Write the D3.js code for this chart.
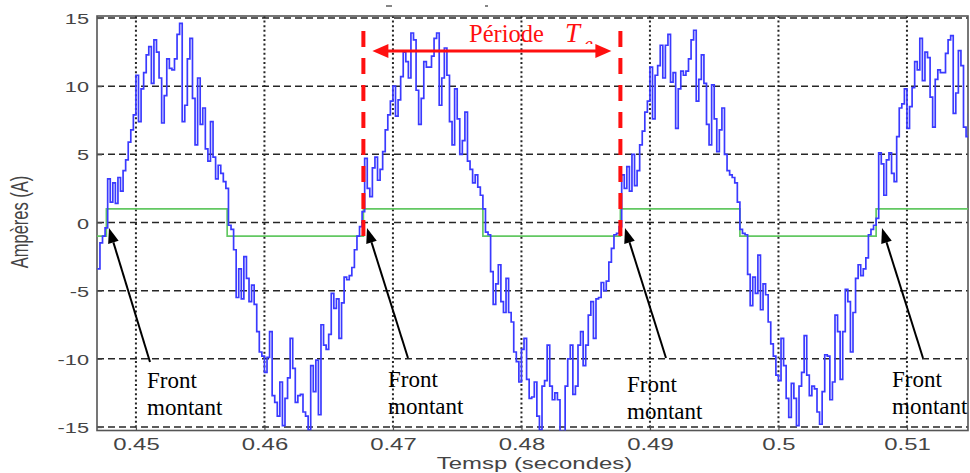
<!DOCTYPE html>
<html>
<head>
<meta charset="utf-8">
<script src="https://cdn.jsdelivr.net/npm/d3@7"></script>
<style>
  html, body { margin: 0; padding: 0; background: #fff; }
  svg { display: block; }
</style>
</head>
<body>
<script>
// ---------- DATA ----------
// Sampled (zero-order hold) phase current, Amperes, starting at t0 with step dt
const t0 = 0.4470;
const dt = 0.0002;
const current = [
  -3.4, -1.5, -1.0, -0.4,
  3.2, 1.5, 2.9, 1.4, 3.3, 2.3, 3.8, 4.6, 5.9, 6.8, 7.9, 10.8, 7.4, 9.8, 11.0, 12.3,
  12.9, 10.2, 13.4, 12.5, 10.6, 7.3, 9.3, 12.0, 11.3, 11.2, 12.0, 13.8, 14.6, 7.4, 8.6, 12.0,
  13.5, 9.1, 5.7, 10.6, 7.2, 8.4, 5.4, 4.5, 7.4, 4.8, 3.2, 4.2, 3.6, 3.0, 2.5,
  -0.2, -0.5, -2.0, -5.5, -3.4, -5.6, -2.5, -4.1, -5.8, -4.6, -6.0, -8.0, -9.5, -9.8, -11.0,
  -9.9, -8.0, -12.7, -13.2, -14.2, -11.7, -14.9, -12.9, -11.4, -8.5, -10.7, -13.2, -12.7, -12.6,
  -13.9, -14.2, -15.2, -10.5, -12.4, -10.1, -14.1, -7.5, -9.0, -9.3, -8.2, -5.2, -6.3, -5.6,
  -8.5, -5.9, -4.0, -4.2, -3.9, -3.3, -2.0, -1.0, -0.3, 0.8,
  4.7, 2.5, 1.9, 4.0, 4.8, 3.1, 3.9, 5.2, 6.8, 7.9, 8.9, 10.0, 7.8, 9.0, 10.7, 12.5, 11.8,
  10.6, 13.9, 13.4, 9.7, 7.2, 9.1, 11.8, 11.4, 11.4, 12.2, 13.5, 13.9, 8.6, 10.6, 12.8, 10.8,
  7.4, 5.7, 9.8, 7.6, 5.0, 6.0, 8.1, 4.5, 3.9, 2.9, 3.5, 2.6, 2.0, 1.0,
  -0.7, -0.9, -3.6, -6.0, -4.5, -3.1, -5.8, -6.6, -4.1, -6.6, -7.3, -9.5, -10.2, -11.7, -9.3,
  -8.5, -11.5, -12.9, -12.8, -11.7, -14.2, -15.2, -12.0, -11.6, -9.0, -12.0, -13.0, -12.5,
  -13.0, -15.3, -15.4, -12.0, -10.0, -9.0, -12.6, -12.0, -9.0, -8.0, -10.5, -9.0, -6.8, -5.8,
  -8.5, -5.6, -5.5, -4.4, -5.0, -4.3, -2.9, -1.9, -0.9, -0.8, -0.3,
  3.5, 2.5, 4.1, 2.3, 5.0, 2.7, 3.8, 5.7, 6.7, 8.1, 8.9, 11.4, 7.6, 10.8, 11.5, 13.0, 10.6,
  13.0, 13.8, 10.3, 11.0, 6.9, 9.8, 11.1, 10.8, 11.1, 12.0, 13.4, 14.1, 8.9, 10.5, 12.3, 10.2,
  7.2, 5.7, 10.1, 7.6, 5.2, 6.8, 8.4, 5.0, 3.8, 3.5, 3.3, 2.9, 1.5,
  -0.5, -0.8, -0.9, -3.8, -6.1, -4.0, -5.2, -2.4, -6.4, -4.5, -5.3, -7.3, -8.9, -9.8, -11.2,
  -11.6, -8.5, -10.5, -12.9, -14.3, -11.8, -12.9, -14.9, -12.0, -11.0, -8.3, -11.2, -12.7,
  -12.0, -12.2, -13.9, -14.8, -12.4, -9.7, -9.8, -13.0, -11.7, -6.8, -8.0, -11.5, -8.0, -4.9,
  -5.8, -9.5, -6.6, -4.1, -3.1, -3.9, -3.4, -2.6, -0.9, -0.5, -0.2, 0.3,
  5.1, 4.3, 2.0, 4.6, 5.1, 3.6, 3.0, 6.3, 8.4, 8.7, 9.8, 6.9, 8.5, 9.9, 11.8, 11.2, 13.5,
  10.4, 12.5, 12.1, 9.2, 7.0, 10.5, 11.2, 11.0, 11.0, 12.4, 13.4, 13.7, 8.0, 9.5, 12.6, 11.5,
  7.0, 6.3, 8.0
];
// Square-wave (sign) signal: edge times and levels
const squareTimes  = [0.44697, 0.4477, 0.4571, 0.4677, 0.4770, 0.4877, 0.4970, 0.5076, 0.51475];
const squareLevels = [-1, 1, -1, 1, -1, 1, -1, 1, 1];
// Period markers (rising edges) for the red dashed lines
const periodMarks = [0.4677, 0.4877];
// Axes
const xDomain = [0.44697, 0.51475];
const yDomain = [-15, 15];
const xTicks = [0.45, 0.46, 0.47, 0.48, 0.49, 0.50, 0.51];
const xTickLabels = ["0.45", "0.46", "0.47", "0.48", "0.49", "0.5", "0.51"];
const yTicks = [-15, -10, -5, 0, 5, 10, 15];
const yTickLabels = ["-15", "-10", "-5", "0", "5", "10", "15"];
const xTitle = "Temsp (secondes)";
const yTitle = "Ampères (A)";
const annLabel = ["Front", "montant"];

// ---------- LAYOUT ----------
const W = 970, H = 473;
const L = 97, R = 968, T = 16, B = 430.5;

const svg = d3.select("body").append("svg").attr("width", W).attr("height", H);
svg.append("rect").attr("width", W).attr("height", H).attr("fill", "#fff");

const x = d3.scaleLinear().domain(xDomain).range([L, R]);
const y = d3.scaleLinear().domain(yDomain).range([427, 18]);

const defs = svg.append("defs");
defs.append("clipPath").attr("id", "plotClip")
  .append("rect").attr("x", L).attr("y", T).attr("width", R - L).attr("height", B - T);
defs.append("clipPath").attr("id", "subClip")
  .append("rect").attr("x", 560).attr("y", 0).attr("width", 60).attr("height", 44);

// grid
const grid = svg.append("g");
grid.selectAll(".hg").data(yTicks).join("line")
  .attr("x1", L).attr("x2", R).attr("y1", d => y(d)).attr("y2", d => y(d))
  .attr("stroke", "#262626").attr("stroke-width", 1.5).attr("stroke-dasharray", "7,4");
grid.selectAll(".vg").data(xTicks).join("line")
  .attr("x1", d => x(d)).attr("x2", d => x(d)).attr("y1", T).attr("y2", B)
  .attr("stroke", "#262626").attr("stroke-width", 2).attr("stroke-dasharray", "2,2.6");

// box
svg.append("rect").attr("x", L).attr("y", T).attr("width", R - L).attr("height", B - T)
  .attr("fill", "none").attr("stroke", "#555").attr("stroke-width", 1.6);

// axes
const fontSans = "'Liberation Sans', Arial, sans-serif";
const gx = svg.append("g").attr("transform", `translate(0,${B})`)
  .call(d3.axisBottom(x).tickValues(xTicks).tickFormat((d, i) => xTickLabels[i])
    .tickSizeInner(-5).tickSizeOuter(0));
gx.select(".domain").remove();
gx.selectAll("line").attr("stroke", "#555").attr("stroke-width", 1.2);
gx.selectAll("text").attr("y", 0).attr("dy", 0)
  .attr("transform", "translate(0,19.5) scale(1.45,1)")
  .attr("font-family", fontSans).attr("font-size", 16.5).attr("fill", "#444");

const gy = svg.append("g").attr("transform", `translate(${L},0)`)
  .call(d3.axisLeft(y).tickValues(yTicks).tickFormat((d, i) => yTickLabels[i])
    .tickSizeInner(-5).tickSizeOuter(0));
gy.select(".domain").remove();
gy.selectAll("line").attr("stroke", "#555").attr("stroke-width", 1.2);
gy.selectAll("text").attr("x", 0).attr("dy", 0)
  .attr("transform", "translate(-8,5.5) scale(1.45,1)")
  .attr("font-family", fontSans).attr("font-size", 15).attr("fill", "#444");

// axis titles
svg.append("text").text(xTitle)
  .attr("transform", `translate(${(L + R) / 2 + 2},469) scale(1.45,1)`)
  .attr("text-anchor", "middle").attr("font-family", fontSans).attr("font-size", 16.5)
  .attr("fill", "#444");
svg.append("text").text(yTitle)
  .attr("transform", "translate(27.5,222) scale(1.45,1) rotate(-90)")
  .attr("text-anchor", "middle").attr("font-family", fontSans).attr("font-size", 16.5)
  .attr("fill", "#444");

// tiny remnants at top
svg.append("line").attr("x1", 386).attr("x2", 392).attr("y1", 6).attr("y2", 6)
  .attr("stroke", "#444").attr("stroke-width", 1.3);
svg.append("line").attr("x1", 485).attr("x2", 488).attr("y1", 6).attr("y2", 6)
  .attr("stroke", "#444").attr("stroke-width", 1.3);

// data series
const plot = svg.append("g").attr("clip-path", "url(#plotClip)");
const sqData = squareTimes.map((t, i) => [t, squareLevels[i]]);
plot.append("path").datum(sqData)
  .attr("d", d3.line().x(d => x(d[0])).y(d => y(d[1])).curve(d3.curveStepAfter))
  .attr("fill", "none").attr("stroke", "#62c862").attr("stroke-width", 1.7);

plot.append("path").datum(current)
  .attr("d", d3.line().x((d, i) => x(t0 + i * dt)).y(d => y(d)).curve(d3.curveStepAfter))
  .attr("fill", "none").attr("stroke", "#3a3aff").attr("stroke-width", 1.7)
  .attr("stroke-linejoin", "miter");

// red period markers
svg.selectAll(".pm").data(periodMarks).join("line")
  .attr("x1", d => x(d)).attr("x2", d => x(d)).attr("y1", 31).attr("y2", 243)
  .attr("stroke", "#ff1010").attr("stroke-width", 4).attr("stroke-dasharray", "16,11");

// red double arrow
const ax1 = x(periodMarks[0]) + 9, ax2 = x(periodMarks[1]) - 9, ay = 51;
svg.append("line").attr("x1", ax1 + 12).attr("x2", ax2 - 12).attr("y1", ay).attr("y2", ay)
  .attr("stroke", "#ff1010").attr("stroke-width", 3);
svg.append("path").attr("d", `M${ax1},${ay} L${ax1 + 16},${ay - 7} L${ax1 + 16},${ay + 7} Z`).attr("fill", "#ff1010");
svg.append("path").attr("d", `M${ax2},${ay} L${ax2 - 16},${ay - 7} L${ax2 - 16},${ay + 7} Z`).attr("fill", "#ff1010");

const fontSerif = "'Liberation Serif', 'Times New Roman', serif";
svg.append("text").text("Période").attr("x", 469).attr("y", 42)
  .attr("font-family", fontSerif).attr("font-size", 24.5).attr("fill", "#ff1010");
svg.append("text").text("T").attr("x", 565).attr("y", 42)
  .attr("font-family", fontSerif).attr("font-style", "italic").attr("font-size", 27).attr("fill", "#ff1010");
svg.append("text").text("e").attr("x", 584).attr("y", 51)
  .attr("clip-path", "url(#subClip)")
  .attr("font-family", fontSerif).attr("font-style", "italic").attr("font-size", 20).attr("fill", "#ff1010");

// "Front montant" annotations with arrows
const anns = [
  { tip: [109, 228], tail: [150, 362], tx: 147, ty: 388 },
  { tip: [367, 228], tail: [408, 358], tx: 388, ty: 387 },
  { tip: [625, 228], tail: [666, 358], tx: 627, ty: 392 },
  { tip: [882, 228], tail: [923, 358], tx: 892, ty: 387 }
];
anns.forEach(a => {
  const [x1, y1] = a.tip, [x2, y2] = a.tail;
  const len = Math.hypot(x2 - x1, y2 - y1);
  const ux = (x2 - x1) / len, uy = (y2 - y1) / len;
  const hl = 15, hw = 5.5;
  const bx = x1 + ux * hl, by = y1 + uy * hl;
  svg.append("line").attr("x1", bx).attr("y1", by).attr("x2", x2).attr("y2", y2)
    .attr("stroke", "#000").attr("stroke-width", 2);
  svg.append("path")
    .attr("d", `M${x1},${y1} L${bx - uy * hw},${by + ux * hw} L${bx + uy * hw},${by - ux * hw} Z`)
    .attr("fill", "#000");
  svg.append("text").text(annLabel[0]).attr("x", a.tx).attr("y", a.ty)
    .attr("font-family", fontSerif).attr("font-size", 23).attr("fill", "#000");
  svg.append("text").text(annLabel[1]).attr("x", a.tx).attr("y", a.ty + 27)
    .attr("font-family", fontSerif).attr("font-size", 23).attr("fill", "#000");
});
</script>
</body>
</html>
